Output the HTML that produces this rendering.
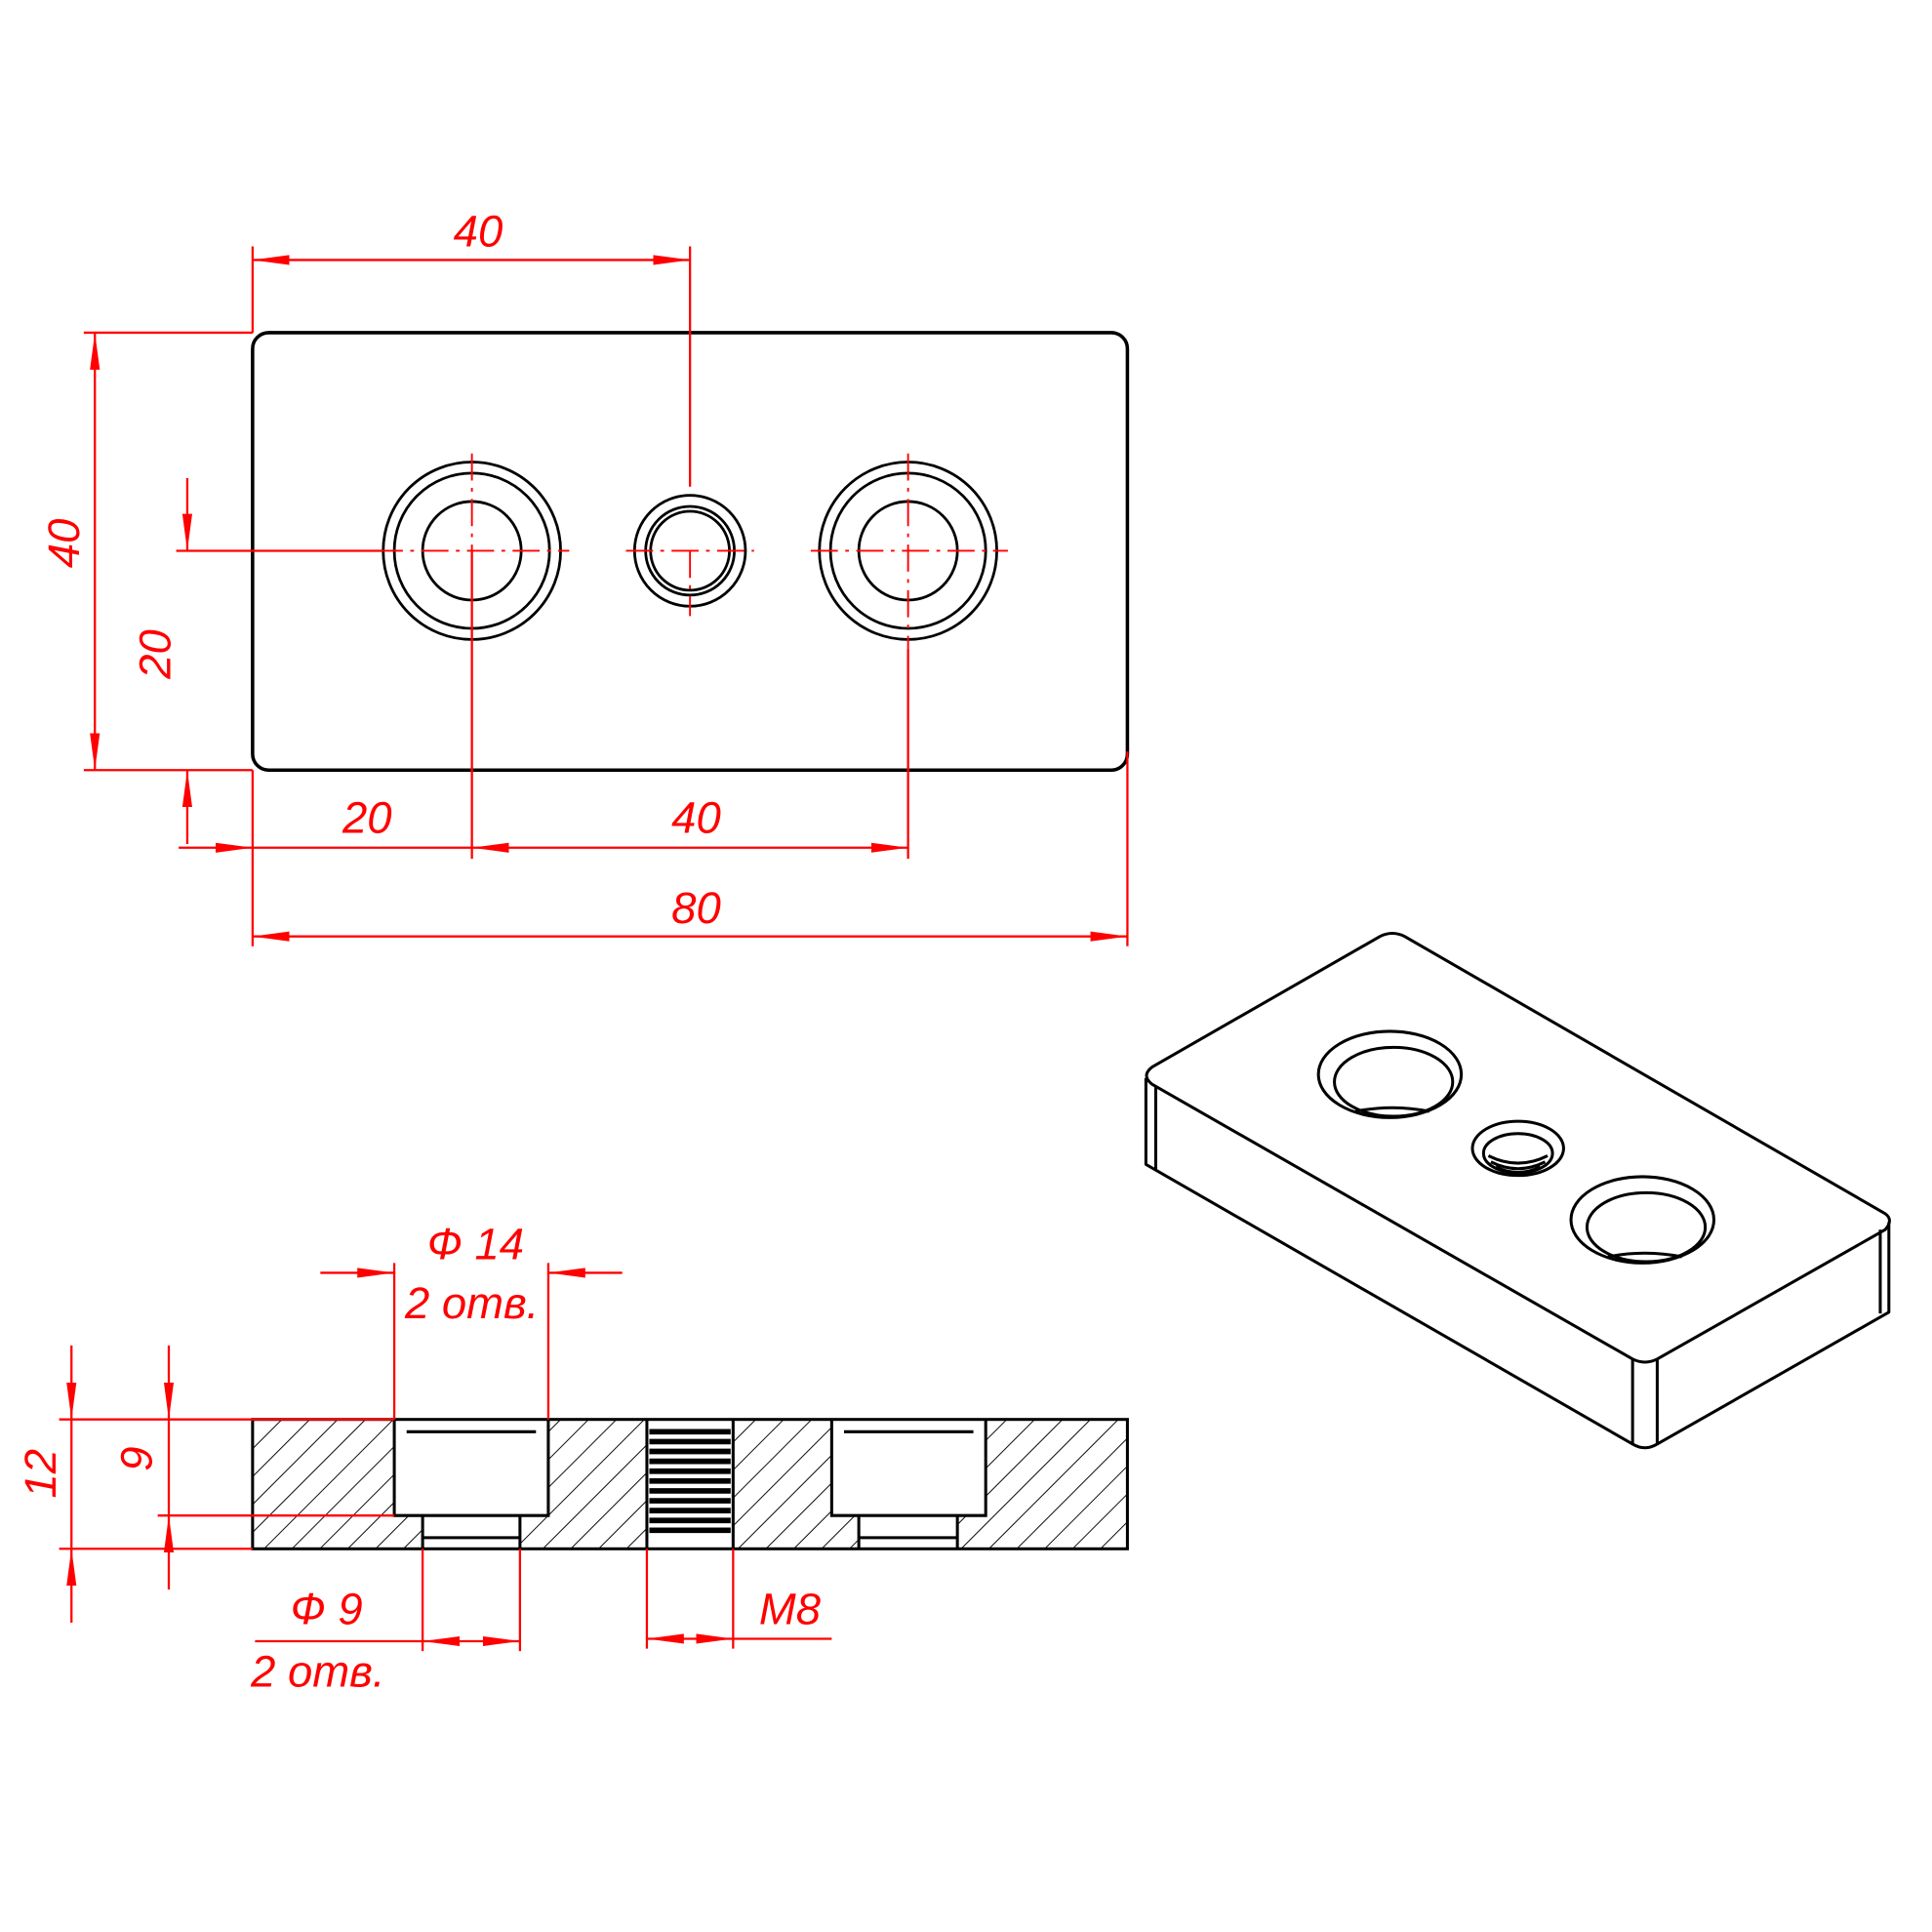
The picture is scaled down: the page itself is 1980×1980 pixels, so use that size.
<!DOCTYPE html>
<html><head><meta charset="utf-8"><style>html,body{margin:0;padding:0;background:#fff}svg{display:block}</style></head>
<body>
<svg width="1980" height="1980" viewBox="0 0 1568 1568" xmlns="http://www.w3.org/2000/svg">
<defs>
<marker id="a" viewBox="0 0 30 10" refX="30" refY="5" markerWidth="30" markerHeight="10" markerUnits="userSpaceOnUse" orient="auto-start-reverse"><path d="M0,1 L30,5 L0,9 Z" fill="red"/></marker>
<pattern id="h" width="16" height="16" patternUnits="userSpaceOnUse" patternTransform="rotate(45)"><line x1="0" y1="0" x2="0" y2="16" stroke="#000" stroke-width="1.5"/></pattern>
</defs>
<g fill="none" stroke="#000" stroke-width="2.8">
<rect x="205" y="270" width="710" height="355" rx="13"/>
<g stroke-width="2.2"><circle cx="383" cy="447" r="72"/><circle cx="383" cy="447" r="63"/><circle cx="383" cy="447" r="40"/>
<circle cx="737" cy="447" r="72"/><circle cx="737" cy="447" r="63"/><circle cx="737" cy="447" r="40"/>
<circle cx="560" cy="447" r="45"/><circle cx="560" cy="447" r="36"/><circle cx="560" cy="447" r="32"/></g>
</g>
<g stroke="red" stroke-width="1.5" stroke-dasharray="22,6,3,6" fill="none">
<line x1="305" y1="447" x2="462" y2="447"/><line x1="383" y1="368" x2="383" y2="447"/>
<line x1="658" y1="447" x2="818" y2="447"/><line x1="737" y1="368" x2="737" y2="527"/>
<line x1="508" y1="447" x2="612" y2="447"/><line x1="560" y1="447" x2="560" y2="500"/>
</g>
<g stroke="red" stroke-width="1.8" fill="none">
<line x1="205" y1="200" x2="205" y2="270"/><line x1="560" y1="200" x2="560" y2="395"/>
<line x1="205" y1="211" x2="560" y2="211" marker-start="url(#a)" marker-end="url(#a)"/>
<line x1="68" y1="270" x2="205" y2="270"/><line x1="68" y1="625" x2="205" y2="625"/>
<line x1="77" y1="270" x2="77" y2="625" marker-start="url(#a)" marker-end="url(#a)"/>
<line x1="143" y1="447" x2="310" y2="447"/>
<line x1="152" y1="388" x2="152" y2="447" marker-end="url(#a)"/>
<line x1="152" y1="685" x2="152" y2="625" marker-end="url(#a)"/>
<line x1="205" y1="625" x2="205" y2="768"/><line x1="383" y1="447" x2="383" y2="697"/><line x1="737" y1="527" x2="737" y2="697"/>
<line x1="145" y1="688" x2="205" y2="688" marker-end="url(#a)"/>
<line x1="205" y1="688" x2="383" y2="688"/>
<line x1="383" y1="688" x2="737" y2="688" marker-start="url(#a)" marker-end="url(#a)"/>
<line x1="915" y1="610" x2="915" y2="768"/>
<line x1="205" y1="760" x2="915" y2="760" marker-start="url(#a)" marker-end="url(#a)"/>
</g>
<g fill="red" font-family="Liberation Sans, sans-serif" font-style="italic" font-size="36" text-anchor="middle">
<text x="388" y="200">40</text>
<text transform="translate(64,441) rotate(-90)">40</text>
<text transform="translate(138,531) rotate(-90)">20</text>
<text x="298" y="676">20</text><text x="565" y="676">40</text><text x="565" y="749">80</text>
<text x="386" y="1022">Ф 14</text><text x="383" y="1070">2 отв.</text>
<text transform="translate(45,1196) rotate(-90)">12</text>
<text transform="translate(123,1184) rotate(-90)">9</text>
<text x="265" y="1318">Ф 9</text><text x="258" y="1369">2 отв.</text>
<text x="641" y="1318">M8</text>
</g>
<path fill="url(#h)" stroke="none" d="M205,1152 H320 V1230 H343 V1257 H205 Z M445,1152 H525 V1257 H422 V1230 H445 Z M595,1152 H675 V1230 H697 V1257 H595 Z M800,1152 H915 V1257 H777 V1230 H800 Z"/>
<g fill="none" stroke="#000" stroke-width="2.4">
<rect x="205" y="1152" width="710" height="105"/>
<path d="M320,1152 V1230 H445 V1152 M330,1162 H435 M343,1230 V1257 M422,1230 V1257 M343,1248 H422"/>
<path d="M675,1152 V1230 H800 V1152 M685,1162 H790 M697,1230 V1257 M777,1230 V1257 M697,1248 H777"/>
<line x1="525" y1="1152" x2="525" y2="1257"/><line x1="595" y1="1152" x2="595" y2="1257"/>
</g>
<g stroke="#000" stroke-width="4.5">
<path d="M527,1162 H593 M527,1170 H593 M527,1178 H593 M527,1186 H593 M527,1194 H593 M527,1202 H593 M527,1210 H593 M527,1218 H593 M527,1226 H593 M527,1234 H593 M527,1242 H593"/>
</g>
<g stroke="red" stroke-width="1.8" fill="none">
<line x1="320" y1="1025" x2="320" y2="1152"/><line x1="445" y1="1025" x2="445" y2="1152"/>
<line x1="260" y1="1033" x2="320" y2="1033" marker-end="url(#a)"/>
<line x1="505" y1="1033" x2="445" y2="1033" marker-end="url(#a)"/>
<line x1="48" y1="1152" x2="320" y2="1152"/><line x1="48" y1="1257" x2="205" y2="1257"/><line x1="128" y1="1230" x2="320" y2="1230"/>
<line x1="58" y1="1092" x2="58" y2="1152" marker-end="url(#a)"/><line x1="58" y1="1317" x2="58" y2="1257" marker-end="url(#a)"/>
<line x1="58" y1="1152" x2="58" y2="1257"/>
<line x1="137" y1="1092" x2="137" y2="1152" marker-end="url(#a)"/><line x1="137" y1="1290" x2="137" y2="1230" marker-end="url(#a)"/>
<line x1="137" y1="1152" x2="137" y2="1230"/>
<line x1="343" y1="1257" x2="343" y2="1340"/><line x1="422" y1="1257" x2="422" y2="1340"/>
<line x1="207" y1="1332" x2="343" y2="1332"/>
<line x1="343" y1="1332" x2="422" y2="1332" marker-start="url(#a)" marker-end="url(#a)"/>
<line x1="525" y1="1257" x2="525" y2="1338"/><line x1="595" y1="1257" x2="595" y2="1338"/>
<line x1="525" y1="1330" x2="595" y2="1330" marker-start="url(#a)" marker-end="url(#a)"/>
<line x1="595" y1="1330" x2="675" y2="1330"/>
</g>
<g fill="none" stroke="#000" stroke-width="2.4" stroke-linejoin="round">
<path d="M935,866 L1120,760 Q1130,755 1140,760 L1530,985 Q1537,990 1530,998 L1345,1103 Q1335,1108 1325,1103 L935,880 Q926,873 935,866 Z"/>
<path d="M930,875 V945 L1325,1172 Q1335,1178 1345,1172 L1533,1065 V992"/>
<path d="M1325,1103 V1172 M1345,1103 V1172 M938,882 V950 M1526,998 V1066"/>
<ellipse cx="1128" cy="872" rx="58" ry="35"/><ellipse cx="1131" cy="878" rx="48" ry="28"/>
<ellipse cx="1333" cy="990" rx="58" ry="35"/><ellipse cx="1336" cy="996" rx="48" ry="28"/>
<ellipse cx="1232" cy="932" rx="37" ry="22"/><ellipse cx="1232" cy="936" rx="28" ry="16"/>
<path d="M1208,938 Q1232,950 1256,938 M1210,943 Q1232,954 1254,943 M1214,947 Q1232,956 1250,947"/>
<path d="M1100,902 Q1130,896 1160,902 M1305,1020 Q1335,1014 1365,1020"/>
</g>
</svg>
</body></html>
